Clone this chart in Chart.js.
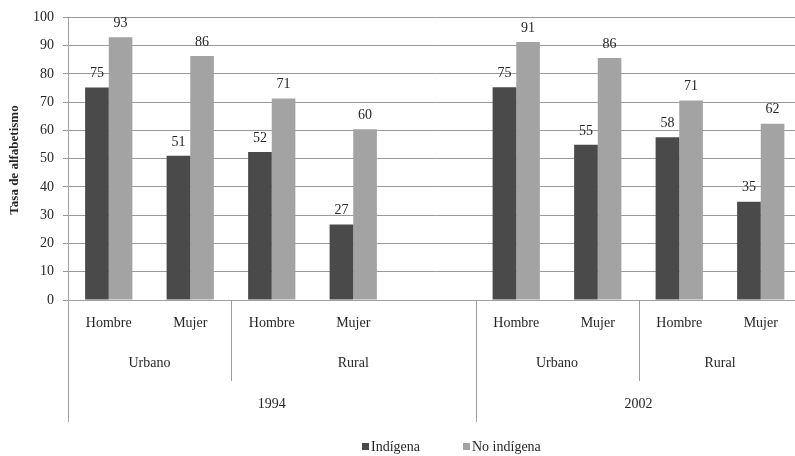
<!DOCTYPE html>
<html lang="es">
<head>
  <meta charset="UTF-8">
  <title>Tasa de alfabetismo</title>
  <style>
    html, body {
      margin: 0;
      padding: 0;
      background-color: #fff;
      overflow: hidden;
    }
    #alfabetismoChart {
      display: block;
    }
  </style>
  <script src="https://cdn.jsdelivr.net/npm/chart.js"></script>
</head>
<body>
<canvas id="alfabetismoChart" width="810" height="456"></canvas>

<script>
  // Datos
  const sexos = ['Hombre', 'Mujer', 'Hombre', 'Mujer', '', 'Hombre', 'Mujer', 'Hombre', 'Mujer'];
  const indigena = [75.2, 51.0, 52.4, 26.7, null, 75.3, 54.9, 57.6, 34.8];
  const noIndigena = [93.0, 86.3, 71.3, 60.4, null, 91.3, 85.6, 70.6, 62.4];
  const zonas = ['Urbano', 'Rural', 'Urbano', 'Rural'];
  const zonasSpan = [2, 3, 2, 2];
  const anios = ['1994', '2002'];
  const aniosSpan = [5, 4];
  const yTicks = [0, 10, 20, 30, 40, 50, 60, 70, 80, 90, 100];

  const fuente = '"Liberation Serif", "Times New Roman", serif';
  const colorTexto = '#262626';
  const colorLinea = '#a0a0a0';

  // Etiquetas de valor sobre las barras
  const etiquetasBarras = {
    id: 'etiquetasBarras',
    afterDatasetsDraw(chart) {
      const ctx = chart.ctx;
      ctx.save();
      ctx.font = '14px ' + fuente;
      ctx.fillStyle = colorTexto;
      ctx.textAlign = 'center';
      ctx.textBaseline = 'middle';
      chart.data.datasets.forEach((ds, i) => {
        chart.getDatasetMeta(i).data.forEach((bar, j) => {
          if (ds.data[j] == null) return;
          ctx.fillText(Math.round(ds.data[j]), bar.x, bar.y - 14);
        });
      });
      ctx.restore();
    }
  };

  // Ejes jerárquicos, título del eje y leyenda
  const decoracion = {
    id: 'decoracion',
    afterDraw(chart) {
      const ctx = chart.ctx;
      const area = chart.chartArea;
      const paso = (area.right - area.left) / sexos.length;
      const borde = i => area.left + paso * i;

      ctx.save();
      ctx.strokeStyle = colorLinea;
      ctx.lineWidth = 1;
      ctx.fillStyle = colorTexto;
      ctx.font = '14px ' + fuente;
      ctx.textAlign = 'center';
      ctx.textBaseline = 'middle';

      // zonas
      let inicio = 0;
      zonas.forEach((z, k) => {
        const fin = inicio + zonasSpan[k];
        ctx.fillText(z, (borde(inicio) + borde(fin)) / 2, 363);
        ctx.beginPath();
        ctx.moveTo(Math.round(borde(fin)) + 0.5, area.bottom);
        ctx.lineTo(Math.round(borde(fin)) + 0.5, 381);
        ctx.stroke();
        inicio = fin;
      });

      // años
      inicio = 0;
      anios.forEach((a, k) => {
        const fin = inicio + aniosSpan[k];
        ctx.fillText(a, (borde(inicio) + borde(fin)) / 2, 404);
        [inicio, fin].forEach(b => {
          ctx.beginPath();
          ctx.moveTo(Math.round(borde(b)) + 0.5, area.bottom);
          ctx.lineTo(Math.round(borde(b)) + 0.5, 422);
          ctx.stroke();
        });
        inicio = fin;
      });

      // título del eje y
      ctx.save();
      ctx.translate(15, 160);
      ctx.rotate(-Math.PI / 2);
      ctx.font = 'bold 13px ' + fuente;
      ctx.fillText('Tasa de alfabetismo', 0, 0);
      ctx.restore();

      // leyenda
      ctx.textAlign = 'left';
      ctx.font = '14px ' + fuente;
      const leyenda = [
        { texto: 'Indígena', color: '#4a4a4a', x: 362 },
        { texto: 'No indígena', color: '#a3a3a3', x: 463 }
      ];
      leyenda.forEach(l => {
        ctx.fillStyle = l.color;
        ctx.fillRect(l.x, 443, 7, 7);
        ctx.fillStyle = colorTexto;
        ctx.fillText(l.texto, l.x + 9, 447);
      });
      ctx.restore();
    }
  };

  const config = {
    type: 'bar',
    data: {
      labels: sexos,
      datasets: [
        {
          label: 'Indígena',
          data: indigena,
          backgroundColor: '#4a4a4a',
          categoryPercentage: 0.58,
          barPercentage: 1.0
        },
        {
          label: 'No indígena',
          data: noIndigena,
          backgroundColor: '#a3a3a3',
          categoryPercentage: 0.58,
          barPercentage: 1.0
        }
      ]
    },
    options: {
      responsive: false,
      animation: false,
      layout: {
        padding: { left: 0, right: 8.5, top: 13, bottom: 0 }
      },
      plugins: {
        legend: { display: false },
        tooltip: { enabled: false }
      },
      scales: {
        x: {
          grid: { display: false },
          border: { color: colorLinea },
          ticks: {
            color: colorTexto,
            font: { family: fuente, size: 14 },
            padding: 7,
            maxRotation: 0,
            autoSkip: false
          },
          afterFit(scale) { scale.height = 156; }
        },
        y: {
          min: 0,
          max: 100,
          afterBuildTicks(scale) {
            scale.ticks = yTicks.map(v => ({ value: v }));
          },
          grid: {
            color: '#9a9a9a',
            tickLength: 5
          },
          border: { display: true, color: colorLinea },
          ticks: {
            color: colorTexto,
            font: { family: fuente, size: 14 },
            padding: 9
          },
          afterFit(scale) { scale.width = 68; }
        }
      }
    },
    plugins: [etiquetasBarras, decoracion]
  };

  new Chart(document.getElementById('alfabetismoChart').getContext('2d'), config);
</script>
</body>
</html>
